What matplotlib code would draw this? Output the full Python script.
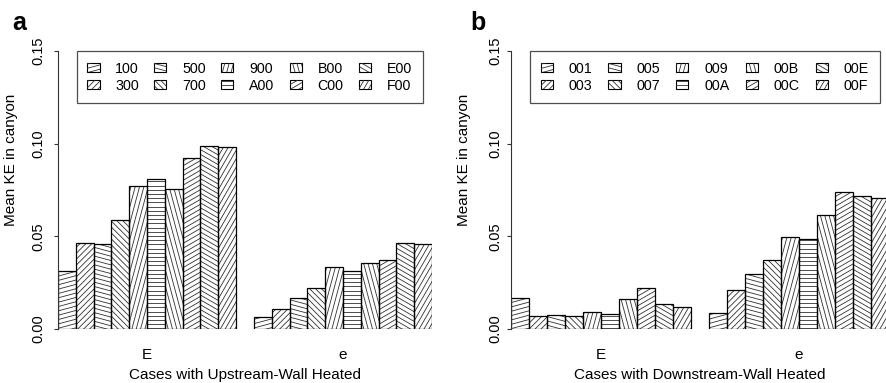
import numpy as np
import matplotlib
matplotlib.use("Agg")
import matplotlib.pyplot as plt
from matplotlib.collections import LineCollection
from matplotlib.patches import Patch
from matplotlib.transforms import IdentityTransform

plt.rcParams['font.family'] = ['Liberation Sans', 'DejaVu Sans']

groups = ["E", "e"]

cases_up = ["100", "300", "500", "700", "900", "A00", "B00", "C00", "E00", "F00"]
ke_up_E = [0.0313, 0.0465, 0.0458, 0.0587, 0.0771, 0.0812, 0.0753, 0.0923, 0.0990, 0.0983]
ke_up_e = [0.0066, 0.0108, 0.0165, 0.0221, 0.0332, 0.0311, 0.0356, 0.0374, 0.0465, 0.0456]

cases_down = ["001", "003", "005", "007", "009", "00A", "00B", "00C", "00E", "00F"]
ke_down_E = [0.0169, 0.0070, 0.0074, 0.0070, 0.0092, 0.0081, 0.0162, 0.0223, 0.0137, 0.0120]
ke_down_e = [0.0086, 0.0208, 0.0296, 0.0374, 0.0494, 0.0483, 0.0616, 0.0737, 0.0719, 0.0706]

# R style shading: one angle per case
hatch_angles = [15, 45, -15, -45, 75, 0, -75, 30, -30, 60]
SPACING = 4.2  # pixels between shading lines


def shade(ax, patch, angle, zorder):
    # parallel lines in pixel space, clipped to the patch
    bb = patch.get_window_extent()
    t = np.deg2rad(angle)
    d = np.array([np.cos(t), np.sin(t)])
    n = np.array([-np.sin(t), np.cos(t)])
    corners = np.array([[bb.x0, bb.y0], [bb.x1, bb.y0], [bb.x0, bb.y1], [bb.x1, bb.y1]])
    proj = corners @ n
    c = np.array([(bb.x0 + bb.x1) / 2, (bb.y0 + bb.y1) / 2])
    L = np.hypot(bb.width, bb.height)
    segs = []
    for k in np.arange(np.floor(proj.min() / SPACING), np.ceil(proj.max() / SPACING) + 1):
        base = c + (k * SPACING - c @ n) * n
        segs.append([base - L * d, base + L * d])
    lc = LineCollection(segs, colors="#303030", linewidths=0.6,
                        transform=IdentityTransform(), zorder=zorder)
    ax.add_collection(lc, autolim=False)
    lc.set_clip_path(patch)  # after add_collection, which would reset it


def panel(ax, cases, vals_E, vals_e, xlabel, tickpad):
    n = len(cases)
    x = np.arange(n)
    bars = []
    for offset, vals in [(0, vals_E), (n + 1, vals_e)]:
        b = ax.bar(x + offset, vals, width=1, align="edge", facecolor="none",
                   edgecolor="black", linewidth=0.9, zorder=2)
        bars.extend(list(b))
    ax.set_xlim(0, 2 * n + 1)
    ax.set_ylim(0, 0.15)

    for s in ["top", "right", "bottom"]:
        ax.spines[s].set_visible(False)
    ax.spines["left"].set_bounds(0, 0.15)
    ax.spines["left"].set_color("#333333")

    ax.set_yticks([0, 0.05, 0.10, 0.15])
    ax.set_yticklabels(["0.00", "0.05", "0.10", "0.15"])
    ax.tick_params(axis="y", length=3, width=0.8, color="#333333", labelsize=10.5, pad=tickpad)
    for lab in ax.get_yticklabels():
        lab.set_rotation(90)
        lab.set_va("center")

    ax.set_xticks([n / 2, n + 1 + n / 2])
    ax.set_xticklabels(groups)
    ax.tick_params(axis="x", length=0, labelsize=11, pad=14)

    ax.set_ylabel("Mean KE in canyon", fontsize=11)
    ax.set_xlabel(xlabel, fontsize=11)

    handles = [Patch(facecolor="white", edgecolor="black", linewidth=0.8) for _ in cases]
    leg = ax.legend(handles, cases, ncol=5, loc="upper left",
                    bbox_to_anchor=(0.05, 0.7986, 0.925, 0.2014), mode="expand",
                    fontsize=10.3, frameon=True, fancybox=False, borderaxespad=0,
                    handlelength=0.85, handleheight=0.65, handletextpad=1.1,
                    labelspacing=0.2, borderpad=0.75, columnspacing=1.0)
    leg.get_frame().set_edgecolor("#222222")
    leg.get_frame().set_linewidth(0.9)
    return bars, leg


fig = plt.figure(figsize=(8.86, 3.83), dpi=100)
ax_a = fig.add_axes([58 / 886, 54 / 383, 374 / 886, 278 / 383])
ax_b = fig.add_axes([511 / 886, 54 / 383, 378 / 886, 278 / 383])

bars_a, leg_a = panel(ax_a, cases_up, ke_up_E, ke_up_e, "Cases with Upstream-Wall Heated", 6)
bars_b, leg_b = panel(ax_b, cases_down, ke_down_E, ke_down_e, "Cases with Downstream-Wall Heated", 3.5)

for ax in [ax_a, ax_b]:
    ax.yaxis.set_label_coords(-40 / 374, 0.61)
    ax.xaxis.set_label_coords(0.5, -0.14)

fig.text(12 / 886, 1 - 30 / 383, "a", fontsize=18, fontweight="bold", va="baseline")
fig.text(470 / 886, 1 - 30 / 383, "b", fontsize=18, fontweight="bold", va="baseline")

fig.canvas.draw()
for ax, bars, leg in [(ax_a, bars_a, leg_a), (ax_b, bars_b, leg_b)]:
    for i, b in enumerate(bars):
        shade(ax, b, hatch_angles[i % 10], 1.5)
    for i, h in enumerate(leg.legend_handles):
        shade(ax, h, hatch_angles[i], 6)

fig.savefig("out.png", dpi=100)
